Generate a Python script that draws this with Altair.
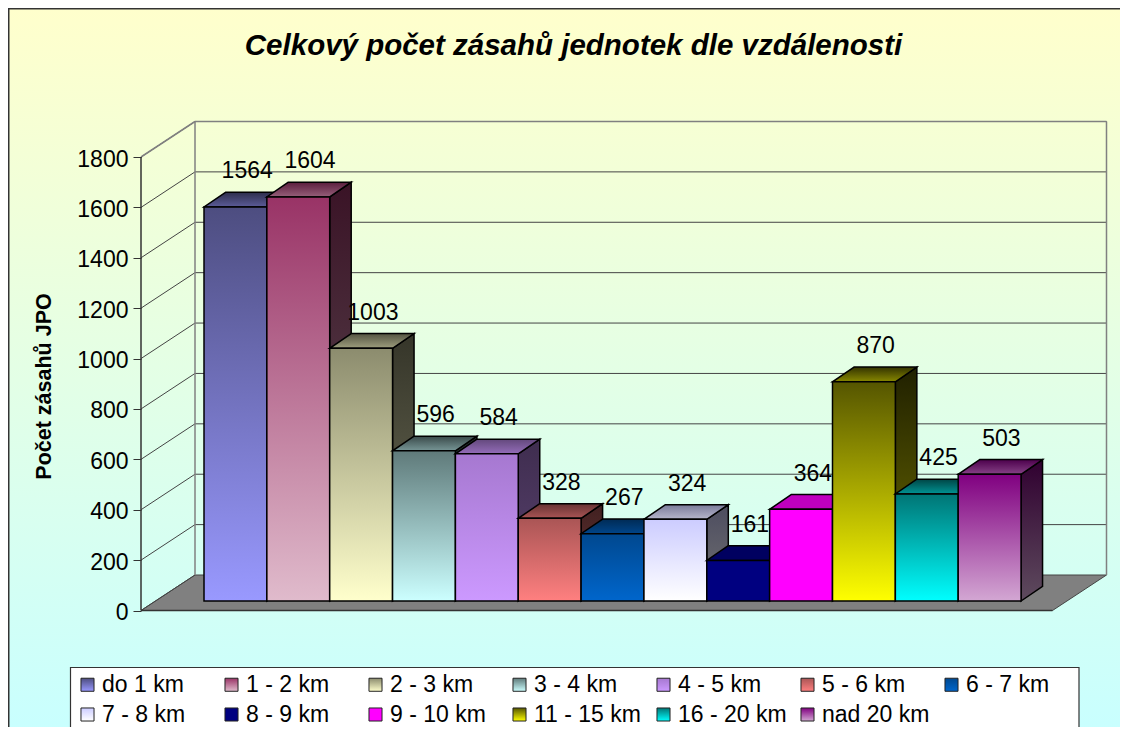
import altair as alt
import pandas as pd

categories = ["do 1 km", "1 - 2 km", "2 - 3 km", "3 - 4 km", "4 - 5 km", "5 - 6 km", "6 - 7 km",
              "7 - 8 km", "8 - 9 km", "9 - 10 km", "11 - 15 km", "16 - 20 km", "nad 20 km"]
values = [1564, 1604, 1003, 596, 584, 328, 267, 324, 161, 364, 870, 425, 503]
top_colors = ["#4D4D80", "#993366", "#8C8C6E", "#5F7A7A", "#A678D0", "#AA5555", "#00488F",
              "#CCCCFF", "#000080", "#FF00FF", "#555500", "#007575", "#800080"]
bottom_colors = ["#9999FF", "#E0BBCC", "#FFFFCC", "#CCFFFF", "#CC99FF", "#FF8080", "#0066CC",
                 "#FFFFFF", "#000080", "#FF00FF", "#FFFF00", "#00FFFF", "#D3A7D3"]
tick_values = [0, 200, 400, 600, 800, 1000, 1200, 1400, 1600, 1800]

W, H = 1112, 719
PX_X = 62.85            # pixels per bar
PX_Y = 453.5 / 1800     # pixels per unit
X0_PAGE, Y0_PAGE = 204.0, 610.5

x_scale = alt.Scale(domain=[(8 - X0_PAGE) / PX_X, (8 + W - X0_PAGE) / PX_X], range=[0, W], nice=False, zero=False)
y_scale = alt.Scale(domain=[(Y0_PAGE - 8 - H) / PX_Y, (Y0_PAGE - 8) / PX_Y], range=[H, 0], nice=False, zero=False)

BASE = 9.5 / PX_Y        # bars stand this far up the floor
BAR_DX, BAR_DY = 21.5 / PX_X, 14.7 / PX_Y
WALL_DX, WALL_DY = 54 / PX_X, 35.5 / PX_Y
LEFT, RIGHT = (141 - X0_PAGE) / PX_X, (1052.5 - X0_PAGE) / PX_X


def shade(hex_color, f):
    r, g, b = [int(hex_color[i:i + 2], 16) for i in (1, 3, 5)]
    return "#%02X%02X%02X" % (int(r * f), int(g * f), int(b * f))


def mix(a, b, f):
    ra, ga, ba = [int(a[i:i + 2], 16) for i in (1, 3, 5)]
    rb, gb, bb = [int(b[i:i + 2], 16) for i in (1, 3, 5)]
    return "#%02X%02X%02X" % (int((ra + rb) / 2 * f), int((ga + gb) / 2 * f), int((ba + bb) / 2 * f))


def vgrad(c1, c2):
    return alt.LinearGradient(gradient="linear", x1=0, y1=0, x2=0, y2=1,
                              stops=[alt.GradientStop(offset=0, color=c1), alt.GradientStop(offset=1, color=c2)])


def expr_grad(c1, c2):
    return alt.ExprRef("{gradient:'linear',x1:0,y1:0,x2:0,y2:1,stops:[{offset:0,color:'%s'},{offset:1,color:'%s'}]}" % (c1, c2))


y_axis = alt.Axis(
    values=tick_values, format="d", offset=-(141 - 8), domain=False, grid=False, tickSize=8, tickColor="#333333",
    labelFont="Liberation Sans", labelFontSize=23, labelColor="black", labelPadding=5, labelOffset=2,
    titleFont="Liberation Sans", titleFontSize=21.5, titleFontWeight="bold", titleColor="black",
    titleX=-86, titleY=378, titleAngle=270, title="Počet zásahů JPO", zindex=1)

X = lambda f="x": alt.X(f"{f}:Q", scale=x_scale, axis=None)
Y = lambda f="y": alt.Y(f"{f}:Q", scale=y_scale, axis=y_axis)

layers = []

# page background
bg = alt.Chart(pd.DataFrame({"a": [0]})).mark_rect(
    fill=vgrad("#FFFFCC", "#C8FFFF"), stroke="#333333", strokeWidth=1.5
).encode(x=alt.value(0.75), x2=alt.value(W + 10), y=alt.value(0.75), y2=alt.value(H + 10))
layers.append(bg)

# legend frame
layers.append(alt.Chart(pd.DataFrame({"a": [0]})).mark_rect(
    fill="white", stroke="#333333", strokeWidth=1.2
).encode(x=alt.value(62.5), x2=alt.value(1071), y=alt.value(659.5), y2=alt.value(H + 10)))

# floor
floor = pd.DataFrame({"y": [0, WALL_DY], "x": [LEFT, LEFT + WALL_DX], "x2": [RIGHT, RIGHT + WALL_DX]})
layers.append(alt.Chart(floor).mark_area(orient="horizontal", fill="#808080", stroke="#444444", strokeWidth=1).encode(
    y=Y(), x=X(), x2="x2:Q"))

# grid lines on the left and back wall
grid = pd.DataFrame({"v": tick_values})
grid["y"] = grid.v
grid["y2"] = grid.v + WALL_DY
grid["x"] = LEFT
grid["xb"] = LEFT + WALL_DX
grid["xr"] = RIGHT + WALL_DX
layers.append(alt.Chart(grid).mark_rule(color="#444444", strokeWidth=1).encode(x=X(), x2="xb:Q", y=Y(), y2="y2:Q"))
layers.append(alt.Chart(grid[grid.v > 0]).mark_rule(color="#444444", strokeWidth=1).encode(x=X("xb"), x2="xr:Q", y=Y("y2")))

walls = pd.DataFrame({"x": [LEFT + WALL_DX, RIGHT + WALL_DX], "y": [WALL_DY, WALL_DY], "y2": [1800 + WALL_DY] * 2})
layers.append(alt.Chart(walls).mark_rule(color="#808080", strokeWidth=1.5).encode(x=X(), y=Y(), y2="y2:Q"))
layers.append(alt.Chart(grid[grid.v == 1800]).mark_rule(color="#808080", strokeWidth=1.5).encode(x=X("xb"), x2="xr:Q", y=Y("y2")))
layers.append(alt.Chart(grid[grid.v == 1800]).mark_rule(color="#808080", strokeWidth=1.5).encode(x=X(), x2="xb:Q", y=Y(), y2="y2:Q"))
# front axis line
layers.append(alt.Chart(pd.DataFrame({"x": [LEFT], "y": [0], "y2": [1800]})).mark_rule(
    color="#333333", strokeWidth=1.5).encode(x=X(), y=Y(), y2="y2:Q"))
layers.append(alt.Chart(grid[grid.v == 0]).mark_rule(color="#333333", strokeWidth=1.5).encode(
    x=X(), x2=alt.datum(RIGHT), y=Y()))

legend = alt.Legend(
    title=None, orient="none", legendX=62, legendY=659, columns=7, direction="horizontal", gridAlign="all",
    symbolType="square", symbolSize=170, symbolStrokeColor="#222222", symbolStrokeWidth=1,
    labelFont="Liberation Sans", labelFontSize=23, labelColor="black", labelLimit=200, labelOffset=3,
    columnPadding=9, rowPadding=6, padding=6)
color_scale = alt.Scale(domain=categories, range=[expr_grad(a, b) for a, b in zip(top_colors, bottom_colors)])

for i, (cat, v, c1, c2) in enumerate(zip(categories, values, top_colors, bottom_colors)):
    b = v + BASE
    side = pd.DataFrame({"x": [i + 1, i + 1 + BAR_DX], "y": [BASE, BASE + BAR_DY], "y2": [b, b + BAR_DY]})
    layers.append(alt.Chart(side).mark_area(
        fill=vgrad(shade(c1, 0.38), shade(c2, 0.45)), stroke="#000000", strokeWidth=1.5, orient="vertical"
    ).encode(x=X(), y=Y(), y2="y2:Q"))
    top = pd.DataFrame({"y": [b, b + BAR_DY], "x": [i, i + BAR_DX], "x2": [i + 1, i + 1 + BAR_DX]})
    layers.append(alt.Chart(top).mark_area(
        fill=vgrad(shade(c1, 0.6), mix(c1, c2, 0.8)) if c1 != c2 else shade(c1, 0.75),
        stroke="#000000", strokeWidth=1.5, orient="horizontal"
    ).encode(y=Y(), x=X(), x2="x2:Q"))
    front = pd.DataFrame({"cat": [cat], "x": [i], "x2": [i + 1], "y": [BASE], "y2": [b]})
    layers.append(alt.Chart(front).mark_rect(stroke="#000000", strokeWidth=1.5).encode(
        x=X(), x2="x2:Q", y=Y(), y2="y2:Q",
        color=alt.Color("cat:N", scale=color_scale, legend=legend)))

labels = pd.DataFrame({"t": values, "x": [i + 0.5 + BAR_DX / 2 + 1 / PX_X for i in range(len(values))]})
labels["y"] = labels.t + BASE + BAR_DY + 14 / PX_Y
layers.append(alt.Chart(labels).mark_text(
    font="Liberation Sans", fontSize=23, color="black", align="center", baseline="alphabetic"
).encode(x=X(), y=Y(), text="t:Q"))

chart = alt.layer(*layers).properties(
    width=W, height=H,
    padding=0,
    autosize=alt.AutoSizeParams(type="none"),
    title=alt.TitleParams(
        "Celkový počet zásahů jednotek dle vzdálenosti", font="Liberation Sans", fontSize=29.5,
        fontWeight="bold", fontStyle="italic", color="black", anchor="middle", baseline="alphabetic", offset=-76, dx=9.5),
).configure_view(stroke=None)

chart.save("out.html", embed_options={"renderer": "svg", "actions": False})
